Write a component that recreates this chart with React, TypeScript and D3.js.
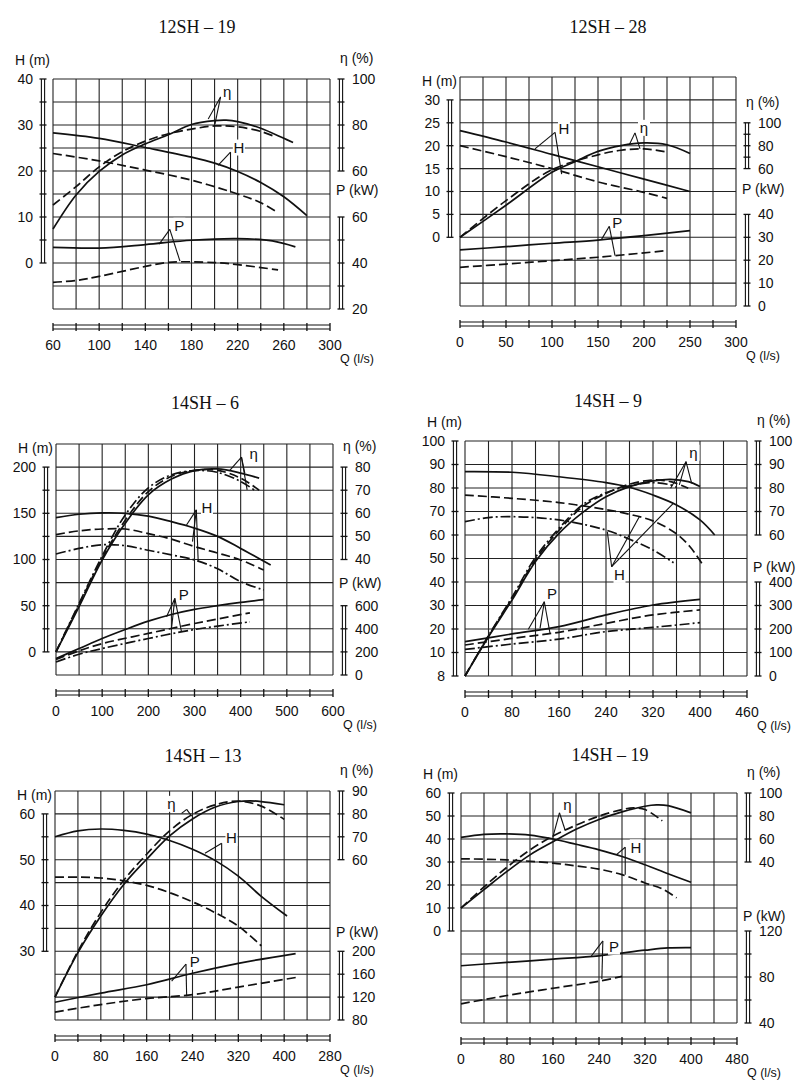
import React, { useEffect, useRef } from 'react';
import * as d3 from 'd3';

type Pt = [number, number];

// ---------- 12SH-19 ----------
const q1Labels = [60, 100, 140, 180, 220, 260, 300];
const h1Labels = [0, 10, 20, 30, 40];
const e1Labels = [60, 80, 100];
const p1Labels = [20, 40, 60];
const h1Solid: Pt[] = [[60, 28.3], [100, 27.1], [140, 25.1], [180, 23], [200, 21.7], [220, 19.9], [240, 17.5], [260, 14.4], [280, 10.3]];
const h1Dash: Pt[] = [[60, 23.8], [100, 22.2], [140, 20.2], [180, 18], [220, 15], [240, 13.1], [255, 10.9]];
const e1Solid: Pt[] = [[60, 34.8], [80, 49.6], [100, 59.8], [120, 67], [140, 71.8], [160, 75.8], [180, 80.2], [200, 81.9], [210, 82.1], [220, 81.5], [240, 78.6], [260, 74.2], [268, 72.4]];
const e1Dash: Pt[] = [[60, 45.2], [80, 53.2], [100, 61.8], [120, 68.4], [140, 73], [160, 76.2], [180, 78.2], [200, 79.6], [220, 79.2], [240, 77.2], [252, 75]];
const p1Solid: Pt[] = [[60, 46.8], [100, 46.5], [140, 48], [180, 49.9], [220, 50.6], [250, 49.6], [270, 47]];
const p1Dash: Pt[] = [[60, 31.6], [80, 32.4], [100, 34.2], [140, 38.5], [160, 40.3], [200, 40.2], [220, 39.3], [255, 37]];

// ---------- 12SH-28 ----------
const q2Labels = [0, 50, 100, 150, 200, 250, 300];
const h2Labels = [0, 5, 10, 15, 20, 25, 30];
const e2Labels = [60, 80, 100];
const p2Labels = [0, 10, 20, 30, 40];
const h2Solid: Pt[] = [[0, 23.3], [50, 20.8], [100, 18.1], [150, 15.4], [200, 12.7], [250, 10]];
const h2Dash: Pt[] = [[0, 20], [50, 17.6], [100, 15], [150, 12.1], [200, 9.8], [225, 8.5]];
const e2Solid: Pt[] = [[0, 0], [50, 28], [100, 56.8], [125, 66], [150, 75], [175, 80], [200, 82.4], [225, 80.8], [250, 73.2]];
const e2Dash: Pt[] = [[0, 0], [50, 32], [100, 59], [150, 72], [175, 76], [200, 77.2], [225, 74.4]];
const p2Solid: Pt[] = [[0, 24.5], [50, 25.9], [100, 27.4], [150, 28.8], [200, 30.7], [250, 32.9]];
const p2Dash: Pt[] = [[0, 16.9], [50, 18.3], [100, 19.8], [150, 21.3], [225, 24.2]];

// ---------- 14SH-6 ----------
const q3Labels = [0, 100, 200, 300, 400, 500, 600];
const h3Labels = [0, 50, 100, 150, 200];
const e3Labels = [40, 50, 60, 70, 80];
const p3Labels = [0, 200, 400, 600];
const h3Solid: Pt[] = [[0, 145.4], [50, 149], [100, 150.5], [150, 150], [200, 147], [250, 141], [300, 134], [350, 125], [400, 112], [465, 94]];
const h3Dash: Pt[] = [[0, 127], [50, 131], [100, 133], [150, 133], [200, 128], [250, 122], [300, 114], [350, 107], [400, 99.5], [450, 88.6]];
const h3DashDot: Pt[] = [[0, 106], [50, 112], [100, 116], [150, 115], [200, 110], [250, 105], [300, 99.5], [350, 90], [400, 76], [450, 67]];
const e3Solid: Pt[] = [[0, 0], [50, 19.6], [100, 39.8], [150, 55.7], [200, 68], [250, 74.8], [300, 78.5], [350, 79.2], [400, 77.4], [440, 75.2]];
const e3Dash: Pt[] = [[0, 0], [50, 20.5], [100, 40.5], [150, 57], [200, 69.4], [250, 76], [300, 78.6], [350, 78.6], [400, 75.2], [440, 70]];
const e3DashDot: Pt[] = [[0, 0], [50, 21], [100, 41.5], [150, 59.3], [200, 71], [250, 76.7], [300, 78.5], [350, 77.7], [400, 73.8], [430, 70]];
const p3Solid: Pt[] = [[0, 142], [50, 229], [100, 316], [150, 394], [200, 466], [250, 524], [300, 568], [350, 600], [400, 628], [450, 652]];
const p3Dash: Pt[] = [[0, 134], [50, 209], [100, 272], [200, 360], [300, 446], [420, 538]];
const p3DashDot: Pt[] = [[0, 113], [50, 180], [100, 229], [200, 316], [300, 394], [420, 460]];

// ---------- 14SH-9 ----------
const q4Values = [0, 80, 160, 240, 320, 400, 480];
const q4Texts = ['0', '80', '160', '240', '320', '400', '460'];
const h4Labels = [0, 10, 20, 30, 40, 50, 60, 70, 80, 90, 100];
const h4Texts = ['8', '10', '20', '30', '40', '50', '60', '70', '80', '90', '100'];
const e4Labels = [60, 70, 80, 90, 100];
const p4Labels = [0, 100, 200, 300, 400];
const h4Solid: Pt[] = [[0, 87], [80, 86.7], [160, 84.8], [240, 82.3], [280, 80.3], [320, 77], [360, 72.8], [400, 66.4], [425, 60]];
const h4Dash: Pt[] = [[0, 77], [80, 75.6], [160, 73.8], [240, 70.8], [280, 68.8], [320, 66], [360, 60.5], [383, 55], [403, 48]];
const h4DashDot: Pt[] = [[0, 65.7], [40, 67.4], [80, 67.8], [160, 66.4], [240, 62.1], [280, 58.2], [320, 53.6], [355, 48.2]];
const e4Solid: Pt[] = [[0, 0], [40, 16.7], [80, 32.3], [120, 48.7], [160, 60.7], [200, 69.5], [240, 76.3], [280, 80.6], [320, 83], [350, 83.7], [380, 82.7], [400, 80.6]];
const e4Dash: Pt[] = [[0, 0], [40, 17], [80, 33], [120, 49.5], [160, 62], [200, 72], [240, 77.7], [280, 81.6], [320, 83.4], [350, 82.7], [380, 79.9]];
const e4DashDot: Pt[] = [[0, 0], [40, 17.2], [80, 33.5], [120, 50.5], [160, 62.8], [200, 72.8], [240, 78], [280, 80.9], [320, 82.3], [350, 81.3], [360, 80.3]];
const p4Solid: Pt[] = [[0, 146], [80, 179], [160, 210], [240, 260], [320, 302], [400, 326]];
const p4Dash: Pt[] = [[0, 132], [80, 160], [160, 186], [240, 224], [320, 260], [400, 281]];
const p4DashDot: Pt[] = [[0, 113], [80, 136], [160, 157], [240, 189], [320, 207], [400, 227]];

// ---------- 14SH-13 ----------
const q5Values = [0, 80, 160, 240, 320, 400, 480];
const q5Texts = ['0', '80', '160', '240', '320', '400', '280'];
const h5Labels = [30, 40, 50, 60];
const e5Labels = [60, 70, 80, 90];
const p5Labels = [80, 120, 160, 200];
const h5Solid: Pt[] = [[0, 55], [40, 56.3], [80, 56.7], [120, 56.4], [160, 55.6], [200, 54.2], [240, 52.3], [280, 49.8], [320, 46.4], [360, 42], [405, 37.7]];
const h5Dash: Pt[] = [[0, 46.2], [40, 46.2], [80, 46], [120, 45.4], [160, 44.4], [200, 42.8], [240, 40.8], [280, 38.4], [320, 35.5], [360, 31.2]];
const e5Solid: Pt[] = [[0, 0], [40, 19.4], [80, 35.4], [120, 49.2], [160, 60.2], [200, 70.4], [240, 77.8], [280, 83], [320, 85.4], [340, 85.7], [360, 85.4], [400, 84]];
const e5Dash: Pt[] = [[0, 0], [40, 20], [80, 37], [120, 51], [160, 62.4], [200, 72.6], [240, 79.8], [280, 84], [320, 85.6], [360, 83.4], [400, 77.6]];
const p5Solid: Pt[] = [[0, 111], [80, 127], [160, 141.6], [240, 161.6], [320, 179], [420, 196]];
const p5Dash: Pt[] = [[0, 93.8], [80, 107], [160, 117.4], [240, 124.3], [320, 137.5], [425, 155]];

// ---------- 14SH-19 ----------
const q6Labels = [0, 80, 160, 240, 320, 400, 480];
const h6Labels = [0, 10, 20, 30, 40, 50, 60];
const e6Labels = [40, 60, 80, 100];
const p6Labels = [40, 80, 120];
const h6Solid: Pt[] = [[0, 40.7], [40, 42], [80, 42.2], [120, 41.7], [160, 40], [200, 37.7], [240, 35.3], [280, 32.4], [320, 28.8], [360, 24.9], [400, 21.2]];
const h6Dash: Pt[] = [[0, 31.4], [80, 30.9], [160, 29.5], [200, 28.3], [240, 26.9], [280, 24.5], [320, 20.9], [350, 18.3], [375, 14.4]];
const e6Solid: Pt[] = [[0, 0], [40, 16], [80, 31.8], [120, 46.2], [160, 57.6], [200, 68.4], [240, 77], [280, 83.6], [320, 88.5], [340, 89.6], [360, 89], [400, 82.7]];
const e6Dash: Pt[] = [[0, 0], [40, 18.3], [80, 35.5], [120, 50.5], [160, 62.6], [200, 72], [240, 79.9], [280, 85.6], [300, 87], [320, 85.6], [350, 75.8]];
const p6Solid: Pt[] = [[0, 89.8], [80, 92.7], [160, 95.5], [240, 98.4], [320, 103.3], [360, 105.3], [400, 105.6]];
const p6Dash: Pt[] = [[0, 56.7], [80, 63.9], [160, 70.2], [240, 76.3], [280, 80.6]];

type Unit = 'H' | 'E' | 'P';
type Style = 'solid' | 'dash' | 'dashdot';
interface Curve { pts: Pt[]; unit: Unit; style: Style }
// callouts are placed in (Q, H) units
interface Note { text: string; at: Pt; apex: Pt; ends: Pt[] }
interface Bar { range: [number, number]; at: [number, number]; step: number; labels: number[]; texts?: string[] }
interface Panel {
    title: string;
    titlePos: [number, number];
    box: { x0: number; x1: number; y0: number; y1: number };
    qDomain: [number, number];
    qStep: number;
    qTicks: number[];
    qTexts?: string[];
    hDomain: [number, number];
    hStep: number;
    hBar: Bar;
    eBar: Bar;
    pBar: Bar;
    pLabelDy: number;
    curves: Curve[];
    notes: Note[];
}

const panels: Panel[] = [
    {
        title: '12SH – 19', titlePos: [197, 33],
        box: { x0: 53, x1: 330, y0: 79, y1: 309 },
        qDomain: [60, 300], qStep: 20, qTicks: q1Labels,
        hDomain: [-10, 40], hStep: 5,
        hBar: { range: [0, 40], at: [0, 40], step: 5, labels: h1Labels },
        eBar: { range: [60, 100], at: [20, 40], step: 10, labels: e1Labels },
        pBar: { range: [20, 60], at: [-10, 10], step: 10, labels: p1Labels },
        pLabelDy: 22,
        curves: [
            { pts: h1Solid, unit: 'H', style: 'solid' }, { pts: h1Dash, unit: 'H', style: 'dash' },
            { pts: e1Solid, unit: 'E', style: 'solid' }, { pts: e1Dash, unit: 'E', style: 'dash' },
            { pts: p1Solid, unit: 'P', style: 'solid' }, { pts: p1Dash, unit: 'P', style: 'dash' },
        ],
        notes: [
            { text: 'η', at: [211, 37.3], apex: [205.2, 36.1], ends: [[194.5, 31.3], [200.3, 30.2]] },
            { text: 'H', at: [221, 25.1], apex: [213.8, 24.1], ends: [[203, 21.2], [213.8, 15.3]] },
            { text: 'P', at: [169.5, 8.1], apex: [161.2, 7.3], ends: [[152, 4.1], [170, 0.4]] },
        ],
    },
    {
        title: '12SH – 28', titlePos: [608, 33],
        box: { x0: 460, x1: 736, y0: 77, y1: 306 },
        qDomain: [0, 300], qStep: 25, qTicks: q2Labels,
        hDomain: [-15, 35], hStep: 5,
        hBar: { range: [0, 30], at: [0, 30], step: 5, labels: h2Labels },
        eBar: { range: [60, 100], at: [15, 25], step: 10, labels: e2Labels },
        pBar: { range: [0, 40], at: [-15, 5], step: 10, labels: p2Labels },
        pLabelDy: 20,
        curves: [
            { pts: h2Solid, unit: 'H', style: 'solid' }, { pts: h2Dash, unit: 'H', style: 'dash' },
            { pts: e2Solid, unit: 'E', style: 'solid' }, { pts: e2Dash, unit: 'E', style: 'dash' },
            { pts: p2Solid, unit: 'P', style: 'solid' }, { pts: p2Dash, unit: 'P', style: 'dash' },
        ],
        notes: [
            { text: 'H', at: [113, 23.8], apex: [103.3, 22.9], ends: [[81.5, 19.3], [110.5, 13.8]] },
            { text: 'η', at: [200, 23.9], apex: [190.2, 22.8], ends: [[184, 20.2], [195.7, 19.3]] },
            { text: 'P', at: [171, 3.1], apex: [162.3, 2.4], ends: [[154, -0.4], [168.5, -4]] },
        ],
    },
    {
        title: '14SH – 6', titlePos: [205, 409],
        box: { x0: 56, x1: 333, y0: 444, y1: 675 },
        qDomain: [0, 600], qStep: 50, qTicks: q3Labels,
        hDomain: [-25, 225], hStep: 25,
        hBar: { range: [0, 200], at: [0, 200], step: 25, labels: h3Labels },
        eBar: { range: [40, 80], at: [100, 200], step: 10, labels: e3Labels },
        pBar: { range: [0, 600], at: [-25, 50], step: 200, labels: p3Labels },
        pLabelDy: 18,
        curves: [
            { pts: h3Solid, unit: 'H', style: 'solid' }, { pts: h3Dash, unit: 'H', style: 'dash' }, { pts: h3DashDot, unit: 'H', style: 'dashdot' },
            { pts: e3Solid, unit: 'E', style: 'solid' }, { pts: e3Dash, unit: 'E', style: 'dash' }, { pts: e3DashDot, unit: 'E', style: 'dashdot' },
            { pts: p3Solid, unit: 'P', style: 'solid' }, { pts: p3Dash, unit: 'P', style: 'dash' }, { pts: p3DashDot, unit: 'P', style: 'dashdot' },
        ],
        notes: [
            { text: 'η', at: [428, 214], apex: [401.7, 210.8], ends: [[376.4, 196.4], [409, 193.5], [414, 175.4]] },
            { text: 'H', at: [327, 155.5], apex: [304, 153.7], ends: [[282.7, 137.4], [295.7, 119.3], [308, 97.6]] },
            { text: 'P', at: [277, 61.5], apex: [257.4, 57.9], ends: [[239.4, 38], [250.2, 25.3], [271.9, 21.7]] },
        ],
    },
    {
        title: '14SH – 9', titlePos: [608, 407],
        box: { x0: 465, x1: 747, y0: 441, y1: 676 },
        qDomain: [0, 480], qStep: 40, qTicks: q4Values, qTexts: q4Texts,
        hDomain: [0, 100], hStep: 10,
        hBar: { range: [0, 100], at: [0, 100], step: 10, labels: h4Labels, texts: h4Texts },
        eBar: { range: [60, 100], at: [60, 100], step: 10, labels: e4Labels },
        pBar: { range: [0, 400], at: [0, 40], step: 100, labels: p4Labels },
        pLabelDy: 10,
        curves: [
            { pts: h4Solid, unit: 'H', style: 'solid' }, { pts: h4Dash, unit: 'H', style: 'dash' }, { pts: h4DashDot, unit: 'H', style: 'dashdot' },
            { pts: e4Solid, unit: 'E', style: 'solid' }, { pts: e4Dash, unit: 'E', style: 'dash' }, { pts: e4DashDot, unit: 'E', style: 'dashdot' },
            { pts: p4Solid, unit: 'P', style: 'solid' }, { pts: p4Dash, unit: 'P', style: 'dash' }, { pts: p4DashDot, unit: 'P', style: 'dashdot' },
        ],
        notes: [
            { text: 'η', at: [389, 95], apex: [376.2, 91.2], ends: [[350, 79.9], [364.8, 81.3], [385.8, 82]] },
            { text: 'H', at: [263, 43], apex: [249.6, 46.5], ends: [[242.3, 61.4], [296.7, 67.8], [354.6, 73.5]] },
            { text: 'P', at: [148, 35.2], apex: [135, 31.6], ends: [[107.8, 19.9], [127.7, 20.3], [144.7, 18.2]] },
        ],
    },
    {
        title: '14SH – 13', titlePos: [203, 762],
        box: { x0: 55, x1: 330, y0: 791, y1: 1020 },
        qDomain: [0, 480], qStep: 40, qTicks: q5Values, qTexts: q5Texts,
        hDomain: [15, 65], hStep: 5,
        hBar: { range: [30, 60], at: [30, 60], step: 5, labels: h5Labels },
        eBar: { range: [60, 90], at: [50, 65], step: 10, labels: e5Labels },
        pBar: { range: [80, 200], at: [15, 30], step: 40, labels: p5Labels },
        pLabelDy: 14,
        curves: [
            { pts: h5Solid, unit: 'H', style: 'solid' }, { pts: h5Dash, unit: 'H', style: 'dash' },
            { pts: e5Solid, unit: 'E', style: 'solid' }, { pts: e5Dash, unit: 'E', style: 'dash' },
            { pts: p5Solid, unit: 'P', style: 'solid' }, { pts: p5Dash, unit: 'P', style: 'dash' },
        ],
        notes: [
            { text: 'η', at: [203, 62.2], apex: [229.8, 61], ends: [[238.6, 59.5], [221, 60.1]] },
            { text: 'H', at: [308, 54.7], apex: [290.9, 53.6], ends: [[261.8, 51.4], [290.9, 37.9]] },
            { text: 'P', at: [244, 27.7], apex: [228.6, 27.2], ends: [[203.6, 23.5], [229.8, 20.2]] },
        ],
    },
    {
        title: '14SH – 19', titlePos: [610, 761],
        box: { x0: 461, x1: 737, y0: 793, y1: 1023 },
        qDomain: [0, 480], qStep: 40, qTicks: q6Labels,
        hDomain: [-40, 60], hStep: 10,
        hBar: { range: [0, 60], at: [0, 60], step: 10, labels: h6Labels },
        eBar: { range: [40, 100], at: [30, 60], step: 20, labels: e6Labels },
        pBar: { range: [40, 120], at: [-40, 0], step: 20, labels: p6Labels },
        pLabelDy: 10,
        curves: [
            { pts: h6Solid, unit: 'H', style: 'solid' }, { pts: h6Dash, unit: 'H', style: 'dash' },
            { pts: e6Solid, unit: 'E', style: 'solid' }, { pts: e6Dash, unit: 'E', style: 'dash' },
            { pts: p6Solid, unit: 'P', style: 'solid' }, { pts: p6Dash, unit: 'P', style: 'dash' },
        ],
        notes: [
            { text: 'η', at: [185, 54.7], apex: [171.2, 51.4], ends: [[159.6, 40.7], [181, 43.9]] },
            { text: 'H', at: [304, 36.4], apex: [285.6, 36.4], ends: [[269.9, 33.1], [285.6, 24.5]] },
            { text: 'P', at: [266, -6.8], apex: [246.7, -4.3], ends: [[225.8, -11.2], [245, -20.9]] },
        ],
    },
];

const SANS = '"Liberation Sans", Arial, sans-serif';
const SERIF = '"Liberation Serif", "Times New Roman", serif';
const INK = '#111';
const dashes: Record<Style, string | null> = { solid: null, dash: '9,4', dashdot: '10,3,2,3' };

const drawBar = (g: any, bx: number, ys: d3.ScaleLinear<number, number>, bar: Bar, side: 'left' | 'right') => {
    const [a, b] = bar.range;
    [-1.6, 1.6].forEach(off => {
        g.append('line')
            .attr('x1', bx + off).attr('x2', bx + off)
            .attr('y1', ys(a)).attr('y2', ys(b))
            .attr('stroke', INK).attr('stroke-width', 1.1);
    });
    const ticks = d3.range(a, b + 1e-6, bar.step);
    g.selectAll(null).data(ticks).join('line')
        .attr('x1', bx - 3.5).attr('x2', bx + 3.5)
        .attr('y1', (d: number) => ys(d)).attr('y2', (d: number) => ys(d))
        .attr('stroke', INK).attr('stroke-width', 1.3);
    g.selectAll(null).data(bar.labels).join('text')
        .attr('x', side === 'left' ? bx - 10 : bx + 11)
        .attr('y', (d: number) => ys(d))
        .attr('dy', '0.35em')
        .attr('text-anchor', side === 'left' ? 'end' : 'start')
        .attr('font-family', SANS).attr('font-size', 14).attr('fill', INK)
        .text((d: number, i: number) => (bar.texts ? bar.texts[i] : String(d)));
};

const drawPanel = (svg: any, p: Panel) => {
    const g = svg.append('g');
    const { x0, x1, y0, y1 } = p.box;
    const x = d3.scaleLinear().domain(p.qDomain).range([x0, x1]);
    const yH = d3.scaleLinear().domain(p.hDomain).range([y1, y0]);
    const yE = d3.scaleLinear().domain(p.eBar.range).range([yH(p.eBar.at[0]), yH(p.eBar.at[1])]);
    const yP = d3.scaleLinear().domain(p.pBar.range).range([yH(p.pBar.at[0]), yH(p.pBar.at[1])]);
    const yOf: Record<Unit, d3.ScaleLinear<number, number>> = { H: yH, E: yE, P: yP };

    // title
    g.append('text')
        .attr('x', p.titlePos[0]).attr('y', p.titlePos[1])
        .attr('text-anchor', 'middle')
        .attr('font-family', SERIF).attr('font-size', 18).attr('fill', INK)
        .text(p.title);

    // grid
    const qs = d3.range(p.qDomain[0], p.qDomain[1] + 1e-6, p.qStep);
    const hs = d3.range(p.hDomain[0], p.hDomain[1] + 1e-6, p.hStep);
    g.selectAll(null).data(qs).join('line')
        .attr('x1', (d: number) => x(d)).attr('x2', (d: number) => x(d))
        .attr('y1', y0).attr('y2', y1)
        .attr('stroke', '#222').attr('stroke-width', 1.1);
    g.selectAll(null).data(hs).join('line')
        .attr('x1', x0).attr('x2', x1)
        .attr('y1', (d: number) => yH(d)).attr('y2', (d: number) => yH(d))
        .attr('stroke', '#222').attr('stroke-width', 1.1);

    // bottom Q scale bar
    [y1 + 16, y1 + 20].forEach(yy => {
        g.append('line').attr('x1', x0).attr('x2', x1).attr('y1', yy).attr('y2', yy)
            .attr('stroke', INK).attr('stroke-width', 1.1);
    });
    g.selectAll(null).data(qs).join('line')
        .attr('x1', (d: number) => x(d)).attr('x2', (d: number) => x(d))
        .attr('y1', y1 + 14).attr('y2', y1 + 22)
        .attr('stroke', INK).attr('stroke-width', 1.3);
    g.selectAll(null).data(p.qTicks).join('text')
        .attr('x', (d: number) => x(d)).attr('y', y1 + 41)
        .attr('text-anchor', 'middle')
        .attr('font-family', SANS).attr('font-size', 14).attr('fill', INK)
        .text((d: number, i: number) => (p.qTexts ? p.qTexts[i] : String(d)));
    g.append('text')
        .attr('x', x1 + 10).attr('y', y1 + 54)
        .attr('font-family', SANS).attr('font-size', 12.5).attr('fill', INK)
        .text('Q (l/s)');

    // side scale bars
    drawBar(g, x0 - 10, yH, p.hBar, 'left');
    drawBar(g, x1 + 11, yE, p.eBar, 'right');
    drawBar(g, x1 + 11, yP, p.pBar, 'right');
    g.append('text')
        .attr('x', x0 - 38).attr('y', yH(p.hBar.range[1]) - 14)
        .attr('font-family', SANS).attr('font-size', 14).attr('fill', INK)
        .text('H (m)');
    g.append('text')
        .attr('x', x1 + 10).attr('y', yE(p.eBar.range[1]) - 16)
        .attr('font-family', SANS).attr('font-size', 14).attr('fill', INK)
        .text('η (%)');
    g.append('text')
        .attr('x', x1 + 6).attr('y', yP(p.pBar.range[1]) - p.pLabelDy)
        .attr('font-family', SANS).attr('font-size', 14).attr('fill', INK)
        .text('P (kW)');

    // curves
    p.curves.forEach(c => {
        const ys = yOf[c.unit];
        const line = d3.line<Pt>()
            .x(d => x(d[0]))
            .y(d => ys(d[1]))
            .curve(d3.curveCatmullRom.alpha(0.5));
        g.append('path')
            .datum(c.pts)
            .attr('fill', 'none')
            .attr('stroke', INK)
            .attr('stroke-width', 1.7)
            .attr('stroke-dasharray', dashes[c.style])
            .attr('d', line);
    });

    // callouts
    p.notes.forEach(n => {
        n.ends.forEach(e => {
            g.append('line')
                .attr('x1', x(n.apex[0])).attr('y1', yH(n.apex[1]))
                .attr('x2', x(e[0])).attr('y2', yH(e[1]))
                .attr('stroke', INK).attr('stroke-width', 1.1);
        });
        g.append('rect')
            .attr('x', x(n.at[0]) - 6).attr('y', yH(n.at[1]) - 8)
            .attr('width', 12).attr('height', 16)
            .attr('fill', '#fff');
        g.append('text')
            .attr('x', x(n.at[0])).attr('y', yH(n.at[1]))
            .attr('dy', '0.35em')
            .attr('text-anchor', 'middle')
            .attr('font-family', SANS).attr('font-size', 15).attr('fill', INK)
            .text(n.text);
    });
};

const App: React.FC = () => {
    const svgRef = useRef<SVGSVGElement | null>(null);

    useEffect(() => {
        const svg = d3.select(svgRef.current);
        svg.selectAll('*').remove();
        svg.append('rect').attr('width', 800).attr('height', 1089).attr('fill', '#fff');
        panels.forEach(p => drawPanel(svg, p));
    }, []);

    return (
        <svg
            ref={svgRef}
            width={800}
            height={1089}
            style={{ position: 'absolute', left: 0, top: 0, display: 'block' }}
        />
    );
};

export default App;
